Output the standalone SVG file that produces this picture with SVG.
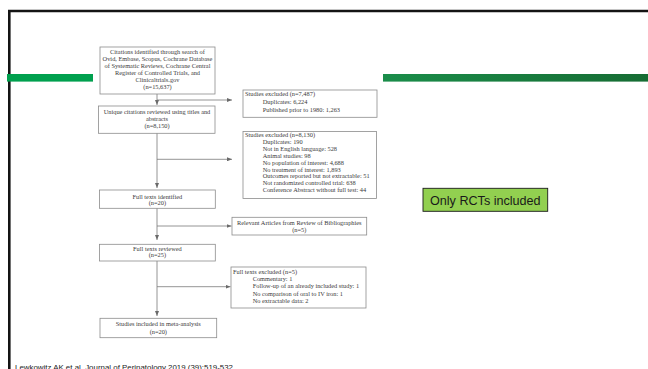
<svg xmlns="http://www.w3.org/2000/svg" width="648" height="369" viewBox="0 0 648 369">
<defs>
<style>
.box{fill:#fff;stroke:#8c8c8c;stroke-width:0.8}
.t{font-family:"Liberation Serif","DejaVu Serif",serif;font-size:6.35px;fill:#3a3a3a}
.c{text-anchor:middle}
.ln{fill:none;stroke:#7a7a7a;stroke-width:0.8}
</style>
<marker id="ah" markerUnits="userSpaceOnUse" markerWidth="5" markerHeight="4" refX="5" refY="2" orient="auto">
<path d="M0,0 L5,2 L0,4 z" fill="#6a6a6a"/>
</marker>
<linearGradient id="g2" x1="0" y1="0" x2="1" y2="0">
<stop offset="0" stop-color="#1a8d4a"/>
<stop offset="1" stop-color="#166c33"/>
</linearGradient>
</defs>
<rect width="648" height="369" fill="#fff"/>
<path d="M9.3,369 V11 H648" fill="none" stroke="#141414" stroke-width="2.6"/>
<rect x="7" y="74" width="86" height="7.6" fill="#00a04e"/>
<rect x="383" y="74" width="265" height="7.6" fill="url(#g2)"/>

<g id="connectors">
<path class="ln" d="M157,94 V105" marker-end="url(#ah)"/>
<path class="ln" d="M157,100 H232" marker-end="url(#ah)"/>
<path class="ln" d="M157,133 V188" marker-end="url(#ah)"/>
<path class="ln" d="M157,159.3 H232" marker-end="url(#ah)"/>
<path class="ln" d="M157,208 V240" marker-end="url(#ah)"/>
<path class="ln" d="M157,226 H231.5" marker-end="url(#ah)"/>
<path class="ln" d="M157,261 V316" marker-end="url(#ah)"/>
<path class="ln" d="M157,286.7 H230.5" marker-end="url(#ah)"/>
</g>

<g id="n1">
<rect class="box" x="100" y="47" width="115" height="47"/>
<text class="t c" x="157.5" y="54.3">Citations identified through search of</text>
<text class="t c" x="157.5" y="61.3">Ovid, Embase, Scopus, Cochrane Database</text>
<text class="t c" x="157.5" y="68.3">of Systematic Reviews, Cochrane Central</text>
<text class="t c" x="157.5" y="75.3">Register of Controlled Trials, and</text>
<text class="t c" x="157.5" y="82.3">Clinicaltrials.gov</text>
<text class="t c" x="157.5" y="89.3">(n=15,637)</text>
</g>

<g id="n2">
<rect class="box" x="98.5" y="106" width="116.5" height="27.3"/>
<text class="t c" x="157" y="114">Unique citations reviewed using titles and</text>
<text class="t c" x="157" y="121.3">abstracts</text>
<text class="t c" x="157" y="128.3">(n=8,150)</text>
</g>

<g id="n3">
<rect class="box" x="243" y="90" width="134" height="27.3"/>
<text class="t" x="245" y="96">Studies excluded (n=7,487)</text>
<text class="t" x="262.7" y="103.8">Duplicates: 6,224</text>
<text class="t" x="262.7" y="111.6">Published prior to 1980: 1,263</text>
</g>

<g id="n4">
<rect class="box" x="243" y="131.5" width="133.5" height="67"/>
<text class="t" x="245" y="137.3">Studies excluded (n=8,130)</text>
<text class="t" x="262.7" y="144.1">Duplicates: 190</text>
<text class="t" x="262.7" y="151">Not in English language: 528</text>
<text class="t" x="262.7" y="157.8">Animal studies: 98</text>
<text class="t" x="262.7" y="164.7">No population of interest: 4,688</text>
<text class="t" x="262.7" y="171.5">No treatment of interest: 1,893</text>
<text class="t" x="262.7" y="178.3">Outcomes reported but not extractable: 51</text>
<text class="t" x="262.7" y="185.2">Not randomized controlled trial: 638</text>
<text class="t" x="262.7" y="192">Conference Abstract without full test: 44</text>
</g>

<g id="n5">
<rect class="box" x="99.5" y="190" width="115.8" height="18.3"/>
<text class="t c" x="157.4" y="198.7">Full texts identified</text>
<text class="t c" x="157.4" y="205.3">(n=20)</text>
</g>

<g id="n6">
<rect class="box" x="232" y="217.3" width="134.7" height="17.7"/>
<text class="t c" x="299.3" y="225.3">Relevant Articles from Review of Bibliographies</text>
<text class="t c" x="299.3" y="232">(n=5)</text>
</g>

<g id="n7">
<rect class="box" x="99.5" y="244.3" width="115.8" height="16.7"/>
<text class="t c" x="157.4" y="250.7">Full texts reviewed</text>
<text class="t c" x="157.4" y="257">(n=25)</text>
</g>

<g id="n8">
<rect class="box" x="231" y="267" width="135" height="41"/>
<text class="t" x="233" y="273.7">Full texts excluded (n=5)</text>
<text class="t" x="252.7" y="281">Commentary: 1</text>
<text class="t" x="252.7" y="288.3">Follow-up of an already included study: 1</text>
<text class="t" x="252.7" y="295.7">No comparison of oral to IV iron: 1</text>
<text class="t" x="252.7" y="303">No extractable data: 2</text>
</g>

<g id="n9">
<rect class="box" x="100" y="318.3" width="116.7" height="19.4"/>
<text class="t c" x="158.3" y="326.3">Studies included in meta-analysis</text>
<text class="t c" x="158.3" y="333.7">(n=20)</text>
</g>

<g id="note">
<rect x="423" y="188.3" width="124.7" height="23" fill="#92d050" stroke="#1a1a1a" stroke-width="0.9"/>
<text x="485.3" y="204.5" text-anchor="middle" font-family="'Liberation Sans','Open Sans',sans-serif" font-size="12.6" fill="#1a1a1a">Only RCTs included</text>
</g>

<text x="15" y="369.5" font-family="'Liberation Sans',Arial,sans-serif" font-size="7.9" fill="#222">Lewkowitz AK et al. Journal of Perinatology 2019 (39):519-532</text>
</svg>
